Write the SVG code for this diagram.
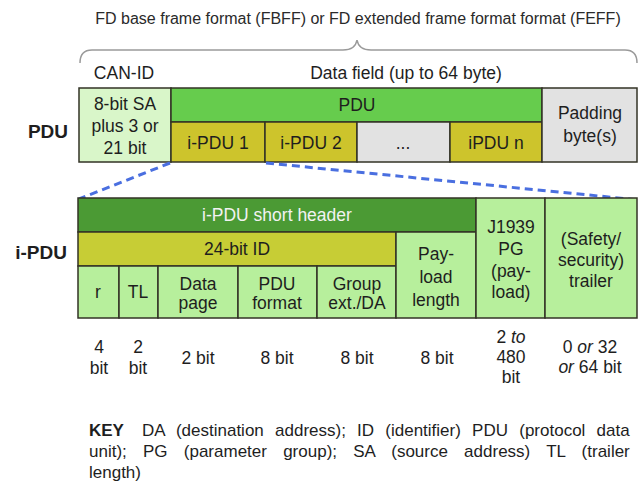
<svg xmlns="http://www.w3.org/2000/svg" width="643" height="483" viewBox="0 0 643 483">
<style>
text{font-family:"Liberation Sans",Arial,sans-serif;font-size:17.5px;fill:#1e1e1e;text-anchor:middle}
.b{stroke:#333326;stroke-width:1.5}
.lg{fill:#b7ef9c}
.lt{fill:#d9f6c9}
.gr{fill:#e2e2e2}
.pg{fill:#66cc4d}
.ol{fill:#cdc42c}
.yl{fill:#c7cd35}
.dk{fill:#4b9a34}
.lbl{font-weight:bold;font-size:19px}
.w{fill:#f2f2f2}
.k{text-anchor:start;font-size:17px}
</style>
<rect width="643" height="483" fill="#ffffff"/>
<text x="358" y="24" style="font-size:16px;fill:#2a2a2a">FD base frame format (FBFF) or FD extended frame format format (FEFF)</text>
<path d="M80,63 C80,55 83,50 92,50 L343,50 C352,50 356,46 357,40 C358,46 362,50 371,50 L625,50 C634,50 637,55 637,63" fill="none" stroke="#9a9a9a" stroke-width="1.5"/>
<text x="124" y="79">CAN-ID</text>
<text x="406" y="79">Data field (up to 64 byte)</text>
<text class="lbl" x="48" y="138">PDU</text>
<text class="lbl" x="41" y="259">i-PDU</text>
<g id="can-id"><rect class="b lt" x="79" y="88" width="92" height="74"/><text x="125" y="110">8-bit SA</text><text x="125" y="132">plus 3 or</text><text x="125" y="154">21 bit</text></g>
<g id="pdu"><rect class="b pg" x="171" y="88" width="371" height="34"/><text x="357" y="111">PDU</text></g>
<g id="ipdu1"><rect class="b ol" x="171" y="122" width="94" height="40"/><text x="218" y="149">i-PDU 1</text></g>
<g id="ipdu2"><rect class="b ol" x="265" y="122" width="92" height="40"/><text x="311" y="149">i-PDU 2</text></g>
<g id="dots"><rect class="b gr" x="357" y="122" width="93" height="40"/><text x="403" y="149">...</text></g>
<g id="ipdun"><rect class="b ol" x="450" y="122" width="92" height="40"/><text x="496" y="149">iPDU n</text></g>
<g id="padding"><rect class="b gr" x="542" y="88" width="95" height="74"/><text x="590" y="119">Padding</text><text x="590" y="142">byte(s)</text></g>
<g id="connectors" fill="none" stroke="#4a6fe0" stroke-width="3" stroke-dasharray="8 5">
<path d="M170,163 L79,199"/>
<path d="M266,163 L639,200"/>
</g>
<g id="short-header"><rect class="b dk" x="78" y="198" width="398" height="34"/><text class="w" x="277" y="221">i-PDU short header</text></g>
<g id="id24"><rect class="b yl" x="78" y="232" width="318" height="34"/><text x="237" y="255">24-bit ID</text></g>
<g id="r"><rect class="b lg" x="78" y="266" width="41" height="52"/><text x="98" y="298">r</text></g>
<g id="tl"><rect class="b lg" x="119" y="266" width="39" height="52"/><text x="138" y="298">TL</text></g>
<g id="datapage"><rect class="b lg" x="158" y="266" width="80" height="52"/><text x="198" y="290">Data</text><text x="198" y="309">page</text></g>
<g id="pduformat"><rect class="b lg" x="238" y="266" width="79" height="52"/><text x="277" y="290">PDU</text><text x="277" y="309">format</text></g>
<g id="group"><rect class="b lg" x="317" y="266" width="79" height="52"/><text x="357" y="290">Group</text><text x="357" y="309">ext./DA</text></g>
<g id="payloadlen"><rect class="b lg" x="396" y="232" width="80" height="86"/><text x="436" y="260">Pay-</text><text x="436" y="283">load</text><text x="436" y="306">length</text></g>
<g id="j1939"><rect class="b lg" x="476" y="198" width="69" height="120"/><text x="511" y="233">J1939</text><text x="511" y="255">PG</text><text x="511" y="277">(pay-</text><text x="511" y="298">load)</text></g>
<g id="trailer"><rect class="b lg" x="545" y="198" width="92" height="120"/><text x="591" y="245">(Safety/</text><text x="591" y="266">security)</text><text x="591" y="287">trailer</text></g>
<g id="bits">
<text x="99" y="353">4</text><text x="99" y="374">bit</text>
<text x="138" y="353">2</text><text x="138" y="374">bit</text>
<text x="198" y="364">2 bit</text>
<text x="277" y="364">8 bit</text>
<text x="357" y="364">8 bit</text>
<text x="437" y="364">8 bit</text>
<text x="511" y="343">2 <tspan font-style="italic">to</tspan></text><text x="511" y="363">480</text><text x="511" y="383">bit</text>
<text x="590" y="353">0 <tspan font-style="italic">or</tspan> 32</text><text x="590" y="373"><tspan font-style="italic">or</tspan> 64 bit</text>
</g>
<g id="key">
<text class="k" x="89" y="436" font-weight="bold">KEY</text>
<text class="k" x="142" y="436" word-spacing="6.5">DA (destination address); ID (identifier) PDU (protocol data</text>
<text class="k" x="89" y="457" word-spacing="11.5">unit); PG (parameter group); SA (source address) TL (trailer</text>
<text class="k" x="89" y="478">length)</text>
</g>
</svg>
